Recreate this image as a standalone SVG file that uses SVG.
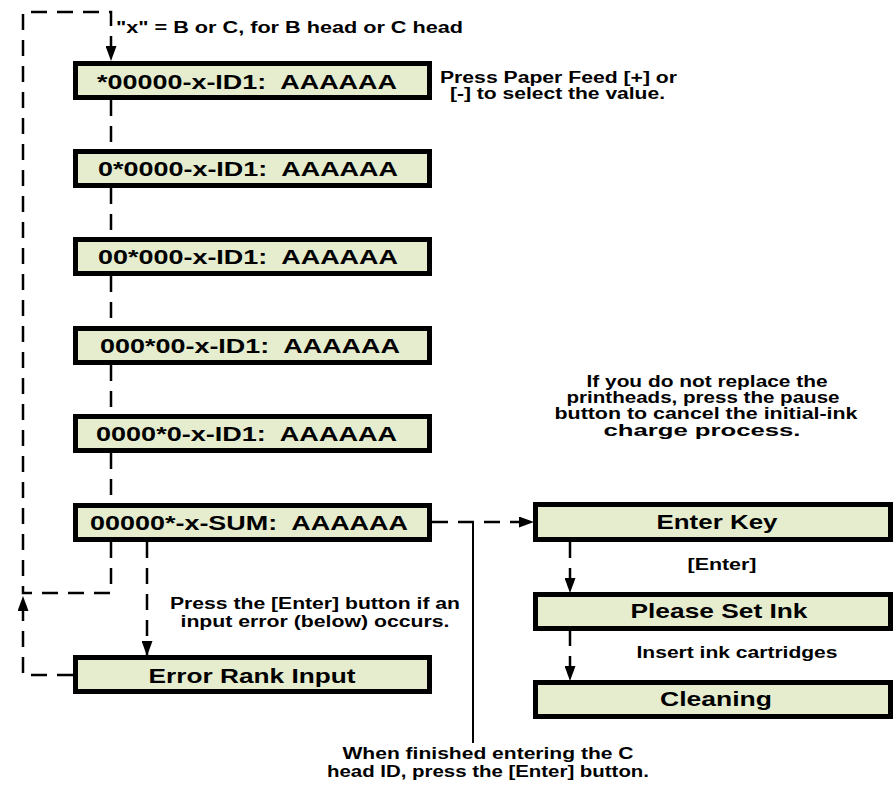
<svg xmlns="http://www.w3.org/2000/svg" width="895" height="785" viewBox="0 0 895 785">
<defs>
<marker id="ah" markerUnits="userSpaceOnUse" markerWidth="15" markerHeight="11" refX="14" refY="5.5" orient="auto">
<path d="M0,0 L15,5.5 L0,11 z" fill="#000"/>
</marker>
<style>
.box{fill:#E5EDCE;stroke:#000;stroke-width:5}
.bt{font-family:"Liberation Sans",Arial,sans-serif;font-weight:bold;font-size:21px;fill:#000;white-space:pre}
.lb{font-family:"Liberation Sans",Arial,sans-serif;font-weight:bold;font-size:16px;fill:#000}
.dash{fill:none;stroke:#000;stroke-width:2.5;stroke-dasharray:16 10}
.solid{fill:none;stroke:#000;stroke-width:2}
</style>
</defs>
<rect width="895" height="785" fill="#fff"/>
<g id="connectors">
<path class="dash" d="M111,542 V593 H23 V12 H111 V60" marker-end="url(#ah)"/>
<path class="dash" d="M73,675 H23 V597" marker-end="url(#ah)"/>
<path class="dash" d="M111,100 V149"/>
<path class="dash" d="M111,188 V237"/>
<path class="dash" d="M111,276 V326"/>
<path class="dash" d="M111,365 V414"/>
<path class="dash" d="M111,453 V503"/>
<path class="dash" d="M147,542 V655" marker-end="url(#ah)"/>
<path class="dash" d="M432,522 H533" marker-end="url(#ah)"/>
<path class="dash" d="M570,542 V592" marker-end="url(#ah)"/>
<path class="dash" d="M570,630 V680" marker-end="url(#ah)"/>
<path class="solid" d="M473,522 V743"/>
</g>
<g id="n1"><rect class="box" x="75.5" y="63.5" width="354" height="34"/><text class="bt" xml:space="preserve" x="97" y="89" textLength="300" lengthAdjust="spacingAndGlyphs">*00000-x-ID1:  AAAAAA</text></g>
<g id="n2"><rect class="box" x="75.5" y="151.5" width="354" height="34"/><text class="bt" xml:space="preserve" x="98" y="176" textLength="300" lengthAdjust="spacingAndGlyphs">0*0000-x-ID1:  AAAAAA</text></g>
<g id="n3"><rect class="box" x="75.5" y="239.5" width="354" height="34"/><text class="bt" xml:space="preserve" x="98" y="264" textLength="300" lengthAdjust="spacingAndGlyphs">00*000-x-ID1:  AAAAAA</text></g>
<g id="n4"><rect class="box" x="75.5" y="328.5" width="354" height="34"/><text class="bt" xml:space="preserve" x="100" y="353" textLength="300" lengthAdjust="spacingAndGlyphs">000*00-x-ID1:  AAAAAA</text></g>
<g id="n5"><rect class="box" x="75.5" y="416.5" width="354" height="34"/><text class="bt" xml:space="preserve" x="96" y="441" textLength="301" lengthAdjust="spacingAndGlyphs">0000*0-x-ID1:  AAAAAA</text></g>
<g id="n6"><rect class="box" x="75.5" y="505.5" width="354" height="34"/><text class="bt" xml:space="preserve" x="90" y="530" textLength="318" lengthAdjust="spacingAndGlyphs">00000*-x-SUM:  AAAAAA</text></g>
<g id="n7"><rect class="box" x="75.5" y="657.5" width="354" height="34"/><text class="bt" x="252" y="683" text-anchor="middle" textLength="207" lengthAdjust="spacingAndGlyphs">Error Rank Input</text></g>
<g id="n8"><rect class="box" x="535.5" y="504.5" width="355" height="35"/><text class="bt" x="717" y="529" text-anchor="middle" textLength="121" lengthAdjust="spacingAndGlyphs">Enter Key</text></g>
<g id="n9"><rect class="box" x="535.5" y="594.5" width="355" height="34"/><text class="bt" x="719" y="618" text-anchor="middle" textLength="177" lengthAdjust="spacingAndGlyphs">Please Set Ink</text></g>
<g id="n10"><rect class="box" x="535.5" y="682.5" width="355" height="34"/><text class="bt" x="716" y="706" text-anchor="middle" textLength="112" lengthAdjust="spacingAndGlyphs">Cleaning</text></g>
<g id="labels">
<text class="lb" x="116" y="33" textLength="347" lengthAdjust="spacingAndGlyphs">"x" = B or C, for B head or C head</text>
<text class="lb" x="440" y="83" textLength="237" lengthAdjust="spacingAndGlyphs">Press Paper Feed [+] or</text>
<text class="lb" x="450" y="99" textLength="215" lengthAdjust="spacingAndGlyphs">[-] to select the value.</text>
<text class="lb" x="707" y="387" text-anchor="middle" textLength="241" lengthAdjust="spacingAndGlyphs">If you do not replace the</text>
<text class="lb" x="703" y="403" text-anchor="middle" textLength="273" lengthAdjust="spacingAndGlyphs">printheads, press the pause</text>
<text class="lb" x="706" y="419" text-anchor="middle" textLength="303" lengthAdjust="spacingAndGlyphs">button to cancel the initial-ink</text>
<text class="lb" x="702" y="436" text-anchor="middle" textLength="197" lengthAdjust="spacingAndGlyphs">charge process.</text>
<text class="lb" x="722" y="570" text-anchor="middle" textLength="69" lengthAdjust="spacingAndGlyphs">[Enter]</text>
<text class="lb" x="737" y="658" text-anchor="middle" textLength="201" lengthAdjust="spacingAndGlyphs">Insert ink cartridges</text>
<text class="lb" x="315" y="609" text-anchor="middle" textLength="290" lengthAdjust="spacingAndGlyphs">Press the [Enter] button if an</text>
<text class="lb" x="315" y="627" text-anchor="middle" textLength="269" lengthAdjust="spacingAndGlyphs">input error (below) occurs.</text>
<text class="lb" x="488" y="759" text-anchor="middle" textLength="291" lengthAdjust="spacingAndGlyphs">When finished entering the C</text>
<text class="lb" x="488" y="777" text-anchor="middle" textLength="322" lengthAdjust="spacingAndGlyphs">head ID, press the [Enter] button.</text>
</g>
</svg>
